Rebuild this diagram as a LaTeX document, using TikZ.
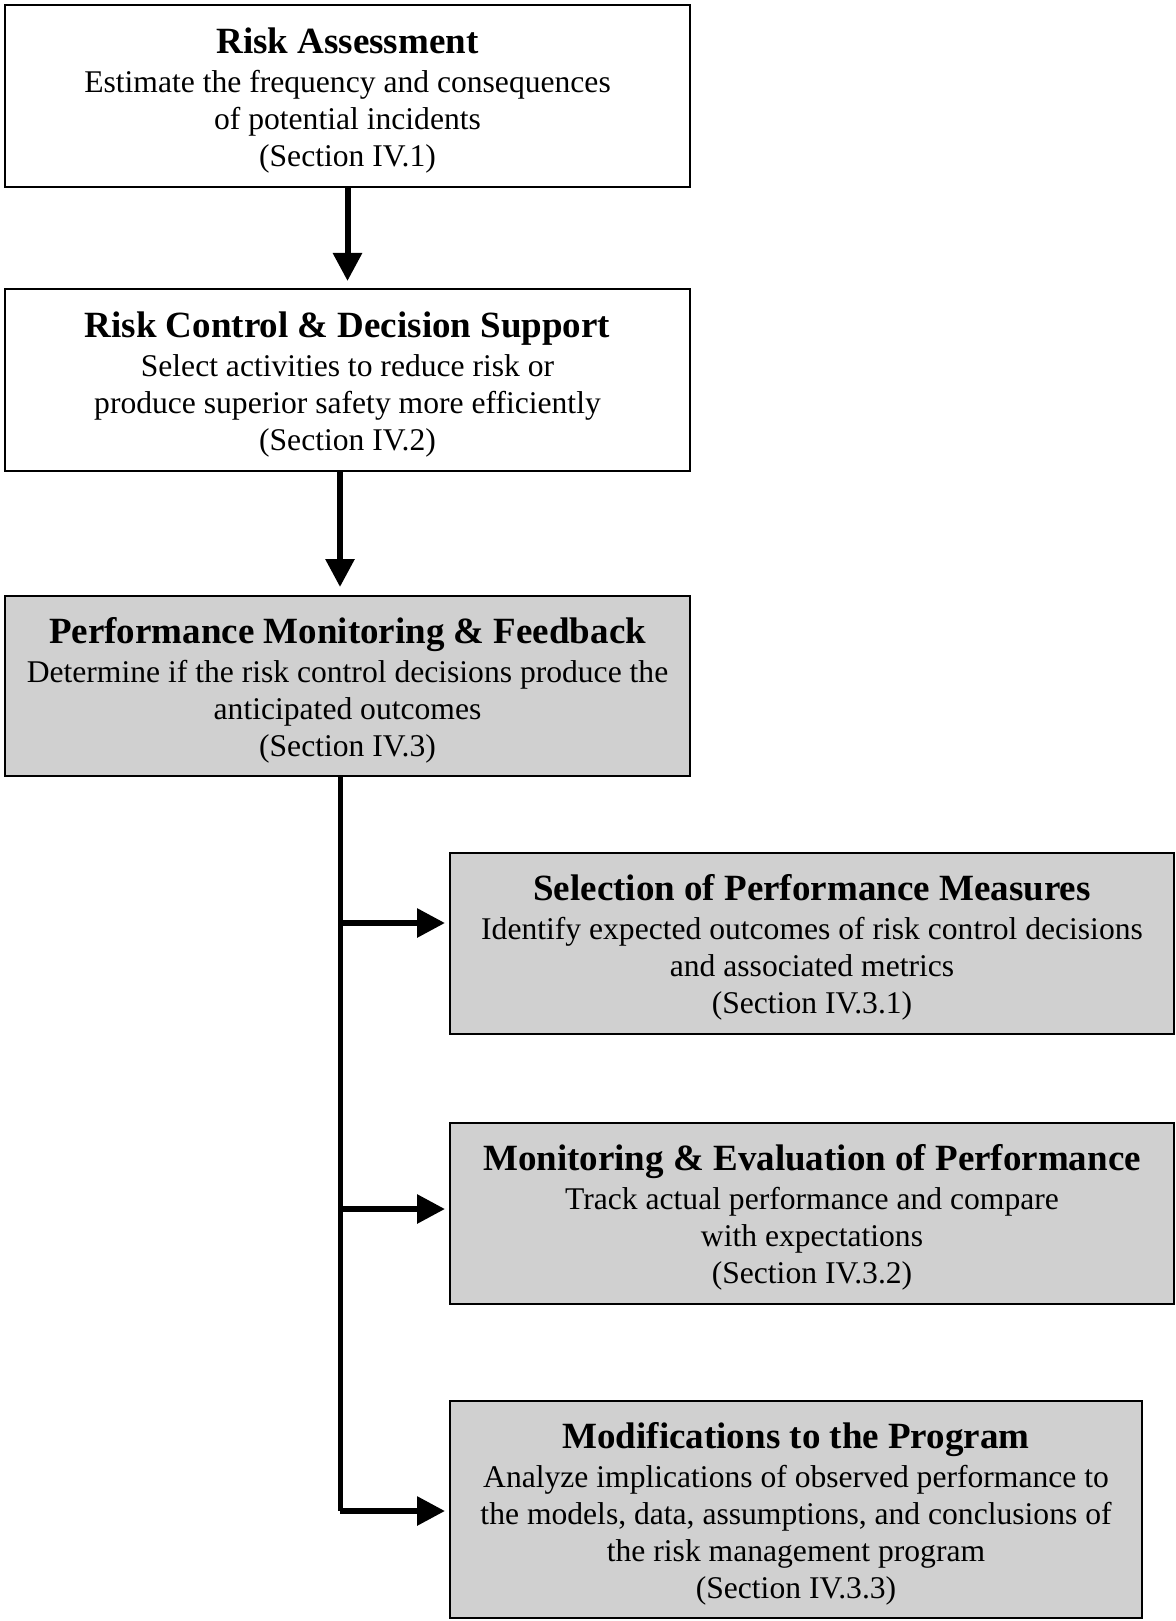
\documentclass[tikz,border=0pt]{standalone}
\usepackage{fontspec}
\setmainfont{Liberation Serif}
\usetikzlibrary{arrows.meta, positioning, calc}
\definecolor{boxgray}{RGB}{208,208,208}
\newcommand{\steptitle}[1]{{\fontsize{37}{40}\selectfont\bfseries\rule{0pt}{34pt}#1}\\[2pt]}

\begin{document}
\begin{tikzpicture}[
      x=1pt, y=-1pt,
      stage/.style={draw, line width=2pt, inner sep=0, align=center,
                    font=\fontsize{31.6}{37}\selectfont},
      graystage/.style={stage, fill=boxgray},
      flow/.style={line width=6pt, -{Triangle[length=28pt, width=28pt]}},
    ]
    \useasboundingbox (0,0) rectangle (1175,1621);

    % ---- TOP: assessment and control ----
    \node[stage, minimum width=685pt, minimum height=182pt] (assess) at (347.5, 96)
      {\steptitle{Risk Assessment}
       Estimate the frequency and consequences\\
       of potential incidents\\
       (Section IV.1)};
    \node[stage, minimum width=685pt, minimum height=182pt] (control) at (347.5, 380)
      {\steptitle{Risk Control \& Decision Support}
       Select activities to reduce risk or\\
       produce superior safety more efficiently\\
       (Section IV.2)};
    \node[graystage, minimum width=685pt, minimum height=180pt] (monitor) at (347.5, 686)
      {\steptitle{Performance Monitoring \& Feedback}
       Determine if the risk control decisions produce the\\
       anticipated outcomes\\
       (Section IV.3)};

    % ---- RIGHT: sub-steps of monitoring ----
    \node[graystage, minimum width=724pt, minimum height=181pt] (select) at (812, 943.5)
      {\steptitle{Selection of Performance Measures}
       Identify expected outcomes of risk control decisions\\
       and associated metrics\\
       (Section IV.3.1)};
    \node[graystage, minimum width=724pt, minimum height=181pt] (evaluate) at (812, 1213.5)
      {\steptitle{Monitoring \& Evaluation of Performance}
       Track actual performance and compare\\
       with expectations\\
       (Section IV.3.2)};
    \node[graystage, minimum width=692pt, minimum height=217pt] (modify) at (796, 1509.5)
      {\steptitle{Modifications to the Program}
       Analyze implications of observed performance to\\
       the models, data, assumptions, and conclusions of\\
       the risk management program\\
       (Section IV.3.3)};

    % Arrows down the main column
    \draw[flow, shorten >=7pt] (assess) -- (control);
    \coordinate (b1) at (340, 923);
    \coordinate (b2) at (340, 1209);
    \coordinate (b3) at (340, 1511);
    \draw[flow, shorten >=8pt] (control.south -| b1) -- (monitor.north -| b1);

    % Trunk with branches
    \draw[line width=5pt] (monitor.south -| b1) -- (b3);
    \foreach \b/\target in {b1/select, b2/evaluate, b3/modify}
      \draw[flow, shorten >=4pt] (\b) -- (\b -| \target.west);

  \end{tikzpicture}
\end{document}
